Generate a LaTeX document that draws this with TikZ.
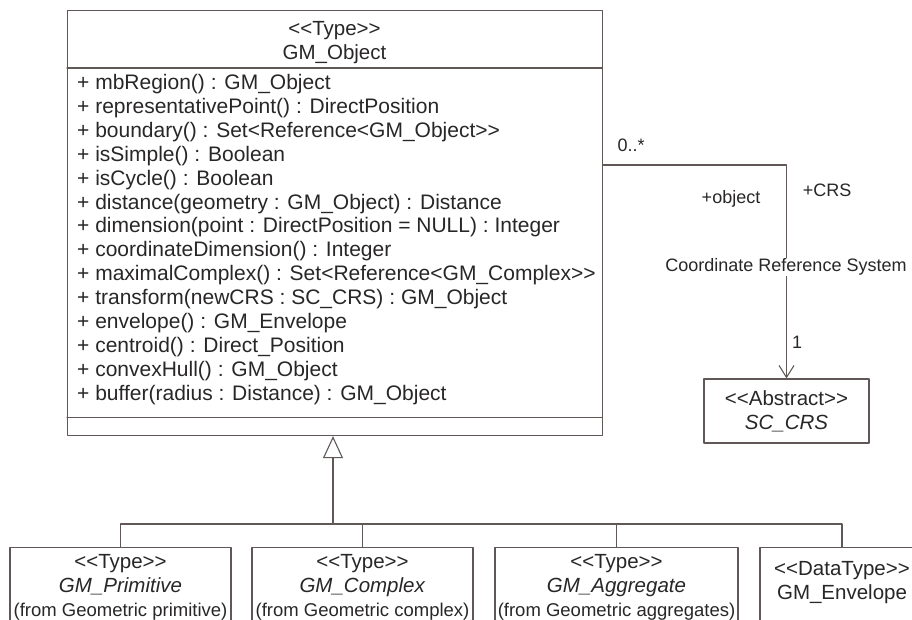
\documentclass[tikz,border=0pt]{standalone}
\usepackage{fontspec}
\setmainfont{Liberation Sans}
\usetikzlibrary{arrows.meta}
\definecolor{umlline}{RGB}{96,88,86}
\definecolor{umltext}{RGB}{40,38,38}
\newcommand\dlt{<\kern0pt<}
\newcommand\dgt{>\kern0pt>}
\newcommand\boxfont{\fontsize{20.5}{23.9}\selectfont}
\newcommand\opfont{\fontsize{21}{23.9}\selectfont}
\newcommand\rolefont{\fontsize{18}{21}\selectfont}
\newcommand\fromfont{\fontsize{18.5}{23.5}\selectfont}
\begin{document}
\begin{tikzpicture}[x=1pt,y=-1pt,line join=round,line cap=round,>={Straight Barb[length=12pt,width=15pt]}]
                \tikzset{umlbox/.style={draw=umlline,line width=1.1pt,text=umltext,inner sep=0pt,align=center,font=\boxfont},
                    oper/.style={anchor=base west,inner sep=0pt,text=umltext,font=\opfont},
                    role/.style={inner sep=1pt,text=umltext,font=\rolefont},
                    conn/.style={draw=umlline,line width=1.1pt}}
                \useasboundingbox (0,0) rectangle (912,619);
                \clip (0,0) rectangle (912,619);
                % GM_Object and its compartments
                \node (obj) [umlbox,minimum width=535pt,minimum height=425pt,anchor=north west] at (67,10) {};
                \draw[conn] (obj.north west) ++(0,58) -- ++(535,0);
                \draw[conn] (obj.south west) ++(0,-19) -- ++(535,0);
                \node (objname) [umlbox,draw=none] at (334.5,43) {\dlt Type\dgt\\GM\_Object};
                \foreach \op [count=\i from 0] in {{+ mbRegion() : GM\_Object},
                    {+ representativePoint() : DirectPosition},
                    {+ boundary() : Set<Reference<GM\_Object\dgt},
                    {+ isSimple() : Boolean},
                    {+ isCycle() : Boolean},
                    {+ distance(geometry : GM\_Object) : Distance},
                    {+ dimension(point : DirectPosition = NULL) : Integer},
                    {+ coordinateDimension() : Integer},
                    {+ maximalComplex() : Set<Reference<GM\_Complex\dgt},
                    {+ transform(newCRS : SC\_CRS) : GM\_Object},
                    {+ envelope() : GM\_Envelope},
                    {+ centroid() : Direct\_Position},
                    {+ convexHull() : GM\_Object},
                    {+ buffer(radius : Distance) : GM\_Object}}
                \node (op\i) [oper] at (77,{89.5+23.9*\i}) {\op};
                % SC_CRS
                \node (crs) [umlbox,minimum width=165pt,minimum height=64pt] at (786.5,411) {\dlt Abstract\dgt\\\textit{SC\_CRS}};
                \draw[conn,->] (obj.north east) ++(0,155) -| (crs.north);
                \node (mult0) [role] at (631,145) {0..*};
                \node (roleobj) [role] at (731,199) {+object};
                \node (rolecrs) [role] at (827,190) {+CRS};
                \node (assocname) [role,fill=white] at (786,267) {Coordinate Reference System};
                \node (mult1) [role] at (797,342) {1};
                % subtypes
                \node (prim) [umlbox,minimum width=221pt,minimum height=80pt,anchor=north] at (120.5,547) {\dlt Type\dgt\\\textit{GM\_Primitive}\\{\fromfont (from Geometric primitive)}};
                \node (cplx) [umlbox,minimum width=221pt,minimum height=80pt,anchor=north] at (362.5,547) {\dlt Type\dgt\\\textit{GM\_Complex}\\{\fromfont (from Geometric complex)}};
                \node (aggr) [umlbox,minimum width=243pt,minimum height=80pt,anchor=north] at (616.5,547) {\dlt Type\dgt\\\textit{GM\_Aggregate}\\{\fromfont (from Geometric aggregates)}};
                \node (env) [umlbox,minimum width=164pt,minimum height=80pt,anchor=north] at (842,547) {\dlt DataType\dgt\\GM\_Envelope\rule[-14pt]{0pt}{14pt}};
                \coordinate (bus) at (333,524);
                \draw[conn] (prim.north) |- (bus) -| (env.north);
                \draw[conn] (cplx.north) -- (cplx.north |- bus);
                \draw[conn] (aggr.north) -- (aggr.north |- bus);
                \draw[conn,-{Triangle[open,length=22pt,width=20pt]}] (bus) -- (bus |- obj.south);
            \end{tikzpicture}
\end{document}
